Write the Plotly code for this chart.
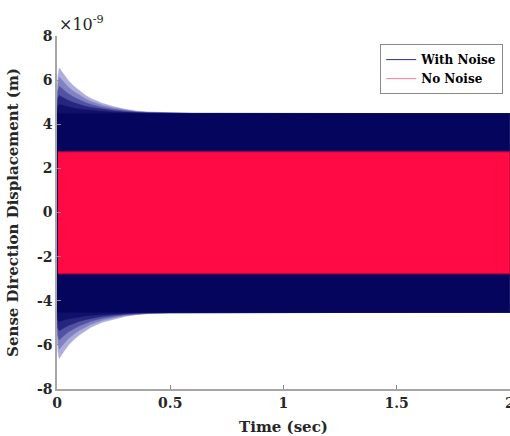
import plotly.graph_objects as go

# Envelope of the sense-direction response (units of 1e-9 m)
t_env = [0.0, 0.004, 0.01, 0.03, 0.05, 0.075, 0.1, 0.125, 0.15, 0.2,
         0.25, 0.3, 0.35, 0.4, 0.5, 0.6, 2.0]
noise_peak_up = [4.5, 6.2, 6.55, 6.25, 5.98, 5.72, 5.5, 5.32, 5.17, 4.95,
                 4.8, 4.68, 4.6, 4.56, 4.52, 4.5, 4.48]
noise_peak_lo = [-4.5, -6.3, -6.62, -6.3, -6.02, -5.76, -5.54, -5.36, -5.2, -4.98,
                 -4.83, -4.71, -4.63, -4.59, -4.55, -4.53, -4.52]
noise_core_up = 4.48
noise_core_lo = -4.52

t_clean = [0.004, 2.0]
clean_up = 2.75
clean_lo = -2.78

x_ticks = [0, 0.5, 1, 1.5, 2]
y_ticks = [-8, -6, -4, -2, 0, 2, 4, 6, 8]

NAVY = "#05055e"
PINK = "#ff0a45"
FONT = "DejaVu Serif"

fig = go.Figure()


def band(xs, lo, hi, color, line_color=None):
    """Closed polygon between two envelopes."""
    px = list(xs) + list(xs)[::-1]
    py = list(hi) + list(lo)[::-1]
    fig.add_trace(go.Scatter(
        x=px, y=py, mode="lines", fill="toself", fillcolor=color,
        line=dict(color=line_color or color, width=0.5 if line_color is None else 1),
        hoverinfo="skip", showlegend=False))


# transient part of the noisy response: lighter toward the peaks
shades = ["#aeaedc", "#8282c2", "#5252a2", "#262680", "#10106a"]
fracs = [1.0, 0.8, 0.6, 0.4, 0.2]
for shade, f in zip(shades, fracs):
    up = [noise_core_up + f * (p - noise_core_up) for p in noise_peak_up]
    lo = [noise_core_lo + f * (p - noise_core_lo) for p in noise_peak_lo]
    band(t_env, [noise_core_up] * len(t_env), up, shade)
    band(t_env, lo, [noise_core_lo] * len(t_env), shade)

# steady oscillation of the noisy response
band([t_env[0], t_env[-1]], [noise_core_lo] * 2, [noise_core_up] * 2, NAVY)

# response without noise
band(t_clean, [clean_lo] * 2, [clean_up] * 2, PINK, line_color="#c0003a")

# legend entries
fig.add_trace(go.Scatter(x=[None], y=[None], mode="lines", name="With Noise",
                         line=dict(color="#2a2a8a", width=1)))
fig.add_trace(go.Scatter(x=[None], y=[None], mode="lines", name="No Noise",
                         line=dict(color="#ff7b98", width=1)))

axis_common = dict(
    showgrid=False, zeroline=False, showline=True, linecolor="#a6a6a6",
    linewidth=1.5, ticks="inside", ticklen=4, tickcolor="#8a8a8a",
    tickfont=dict(family=FONT, size=14, color="#262626", weight="bold"),
    mirror=False, ticklabeloverflow="allow", automargin=False,
)

fig.update_layout(
    width=510, height=436,
    margin=dict(l=57, r=0, t=36, b=47, autoexpand=False),
    paper_bgcolor="white", plot_bgcolor="white",
    xaxis=dict(range=[0, 2.0005], tickvals=x_ticks, ticktext=["0", "0.5", "1", "1.5", "2"],
               title=dict(text="Time (sec)",
                          font=dict(family=FONT, size=15, color="#262626", weight="bold")),
               **axis_common),
    yaxis=dict(range=[-8, 8], tickvals=y_ticks,
               ticktext=[str(v) for v in y_ticks],
               title=dict(text="Sense Direction Displacement (m)",
                          font=dict(family=FONT, size=15, color="#262626", weight="bold")),
               **axis_common),
    legend=dict(x=0.985, y=0.977, xanchor="right", yanchor="top",
                bgcolor="white", bordercolor="#8a8a8a", borderwidth=1,
                font=dict(family=FONT, size=12, color="black", weight="bold"),
                tracegroupgap=0),
    showlegend=True,
    annotations=[dict(
        text="×10<sup>-9</sup>", xref="paper", yref="paper", x=0, y=1,
        xanchor="left", yanchor="bottom", showarrow=False, xshift=0,
        font=dict(family=FONT, size=16, color="#262626"))],
)

fig.write_html("out.html")
